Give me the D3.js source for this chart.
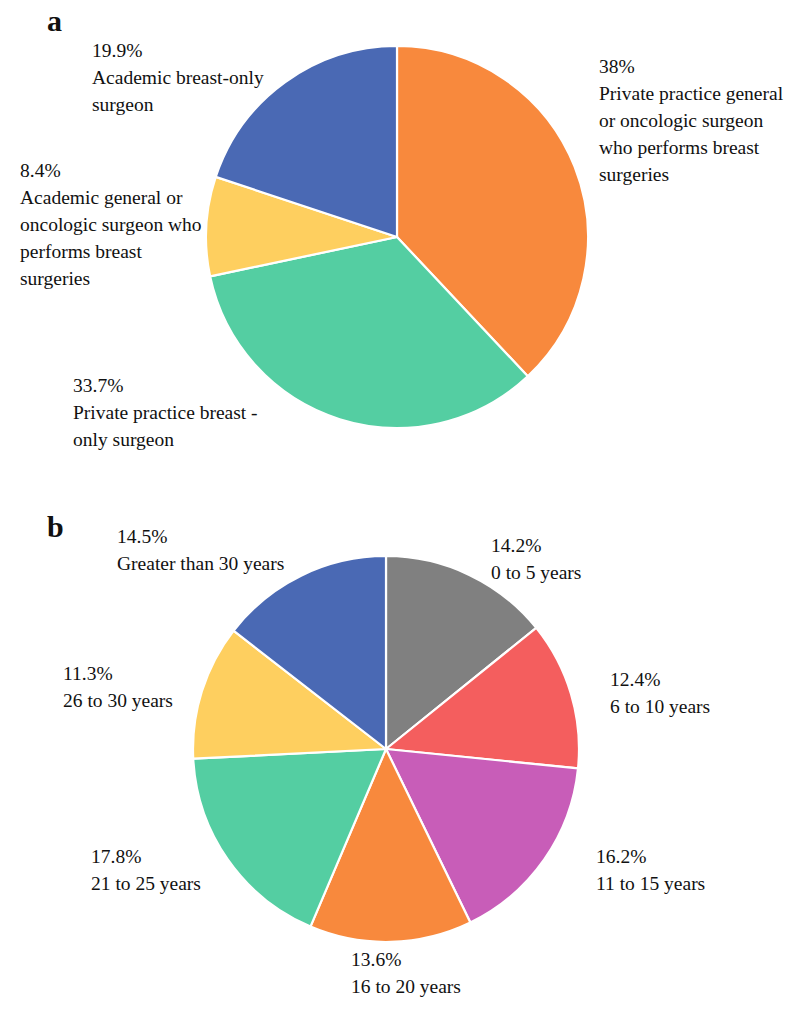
<!DOCTYPE html>
<html><head><meta charset="utf-8">
<script src="https://cdn.jsdelivr.net/npm/d3@7"></script>
<style>body{margin:0;background:#fff}svg{display:block}text{font-family:"Liberation Serif","Times New Roman",serif;fill:#111}</style>
</head><body>
<svg id="c" width="800" height="1012"></svg>
<script>
// Panel a
const catsA = ["Private practice general\nor oncologic surgeon\nwho performs breast\nsurgeries", "Private practice breast -\nonly surgeon", "Academic general or\noncologic surgeon who\nperforms breast\nsurgeries", "Academic breast-only\nsurgeon"];
const valsA = [38, 33.7, 8.4, 19.9];
const pctA = ["38%", "33.7%", "8.4%", "19.9%"];
const colorsA = ["#F8893D", "#54CEA2", "#FECF5F", "#4A69B4"];
// Panel b
const catsB = ["0 to 5 years", "6 to 10 years", "11 to 15 years", "16 to 20 years", "21 to 25 years", "26 to 30 years", "Greater than 30 years"];
const valsB = [14.2, 12.4, 16.2, 13.6, 17.8, 11.3, 14.5];
const pctB = ["14.2%", "12.4%", "16.2%", "13.6%", "17.8%", "11.3%", "14.5%"];
const colorsB = ["#808080", "#F45E5E", "#C85DB8", "#F8893D", "#54CEA2", "#FECF5F", "#4A69B4"];

// layout (label anchors: x, first baseline)
const layoutA = {cx: 397, cy: 237, r: 191, labels: [[599, 73], [73, 392], [20, 177], [92, 57]]};
const layoutB = {cx: 386, cy: 749, r: 193, labels: [[491, 552], [610, 686], [596, 863], [351, 966], [91, 863], [63, 680], [117, 543]]};

const svg = d3.select("#c");
const LH = 27;

function drawPie(vals, pcts, cats, colors, L) {
  const g = svg.append("g").attr("transform", `translate(${L.cx},${L.cy})`);
  const pie = d3.pie().sort(null).value(d => d);
  const arc = d3.arc().innerRadius(0).outerRadius(L.r);
  g.selectAll("path").data(pie(vals)).join("path")
    .attr("d", arc)
    .attr("fill", (d, i) => colors[i])
    .attr("stroke", "#fff").attr("stroke-width", 2.2).attr("stroke-linejoin", "round");
  vals.forEach((v, i) => {
    const [x, y] = L.labels[i];
    const lines = [pcts[i]].concat(cats[i].split("\n"));
    const t = svg.append("text").attr("x", x).attr("y", y).attr("font-size", 19.5);
    lines.forEach((ln, j) => t.append("tspan").attr("x", x).attr("y", y + j * LH).text(ln));
  });
}
drawPie(valsA, pctA, catsA, colorsA, layoutA);
drawPie(valsB, pctB, catsB, colorsB, layoutB);

svg.append("text").attr("x", 47).attr("y", 31).attr("font-size", 30).attr("font-weight", "bold").text("a");
svg.append("text").attr("x", 47).attr("y", 537).attr("font-size", 30).attr("font-weight", "bold").text("b");
</script>
</body></html>
